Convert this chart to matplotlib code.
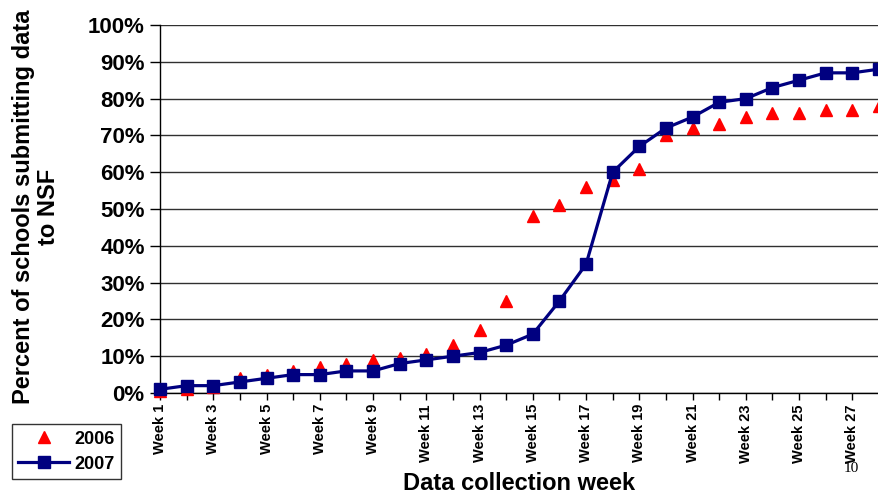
import matplotlib
matplotlib.use('Agg')
import matplotlib.pyplot as plt
from matplotlib.ticker import FuncFormatter

plt.rcParams['font.family'] = ['Liberation Sans', 'DejaVu Sans']
plt.rcParams['font.weight'] = 'bold'

# 数据
weeks = list(range(1, 29))
week_labels = ['Week %d' % w if w % 2 == 1 else '' for w in weeks]
pct_2006 = [0.5, 1, 1.5, 4, 5, 6, 7, 8, 9, 9.5, 10.5, 13, 17, 25, 48, 51, 56, 58, 61,
            70, 72, 73, 75, 76, 76, 77, 77, 78]
pct_2007 = [1, 2, 2, 3, 4, 5, 5, 6, 6, 8, 9, 10, 11, 13, 16, 25, 35, 60, 67,
            72, 75, 79, 80, 83, 85, 87, 87, 88]

fig = plt.figure(figsize=(8.79, 4.95), dpi=100)
ax = fig.add_axes([160 / 879, 1 - 393 / 495, 1 - 160 / 879, 368 / 495])

ax.plot(weeks, pct_2006, linestyle='none', marker='^', color='#ff0000',
        markersize=9, label='2006', clip_on=False, zorder=3)
ax.plot(weeks, pct_2007, color='#000080', linewidth=2.3, marker='s',
        markersize=8, label='2007', clip_on=False, zorder=4)

ax.set_xlim(1, 28)
ax.set_ylim(0, 100)
ax.set_yticks(range(0, 101, 10))
ax.yaxis.set_major_formatter(FuncFormatter(lambda v, p: '%d%%' % v))
ax.set_xticks(weeks)
ax.set_xticklabels(week_labels, rotation=90, fontsize=10.5, fontweight='bold')
ax.tick_params(axis='y', labelsize=16, length=7, width=1, pad=4)
ax.tick_params(axis='x', length=5, width=1, pad=3)
ax.grid(axis='y', color='#303030', linewidth=1)
ax.set_axisbelow(True)
for s in ['top', 'right']:
    ax.spines[s].set_visible(False)
ax.spines['left'].set_linewidth(1)
ax.spines['bottom'].set_linewidth(1)

fig.text(36 / 879, 1 - 207 / 495, 'Percent of schools submitting data\nto NSF', rotation=90,
         ha='center', va='center', multialignment='center', fontsize=17,
         fontweight='bold', linespacing=1.1)
fig.text(519 / 879, 1 - 484 / 495, 'Data collection week', ha='center', va='center',
         fontsize=17, fontweight='bold')
fig.text(851 / 879, 1 - 468 / 495, '10', ha='center', va='center', fontsize=11,
         fontweight='normal', family='Liberation Serif')

leg = fig.legend(loc='lower left', bbox_to_anchor=(12 / 879, 1 - 479 / 495),
                 fontsize=13, frameon=True, fancybox=False, edgecolor='black',
                 handlelength=2.8, borderpad=0.35, labelspacing=0.45, handletextpad=0.3,
                 borderaxespad=0)
leg.get_frame().set_linewidth(1)

plt.savefig('out.png', dpi=100)
